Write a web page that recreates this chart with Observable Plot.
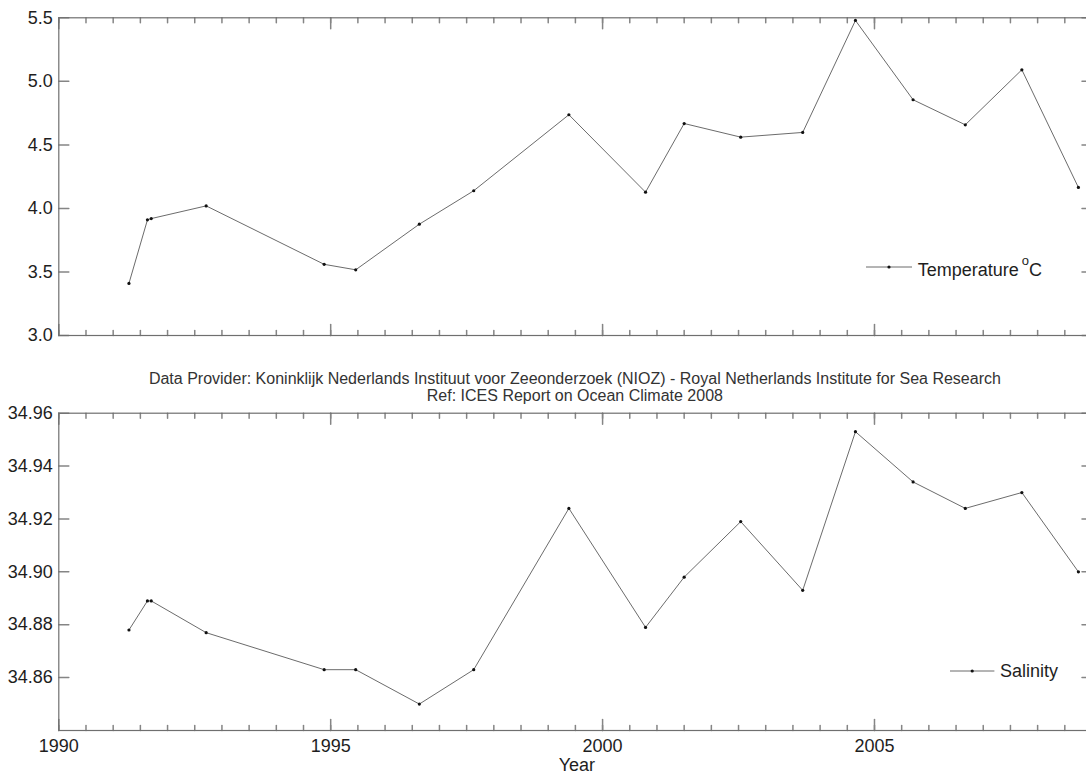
<!DOCTYPE html>
<html>
<head>
<meta charset="utf-8">
<script src="https://cdn.jsdelivr.net/npm/d3@7"></script>
<script src="https://cdn.jsdelivr.net/npm/@observablehq/plot@0.6"></script>
<style>
  html, body { margin: 0; padding: 0; background: #fff; overflow: hidden; }
  #wrap { position: relative; width: 1086px; height: 776px; overflow: hidden; background: #fff;
          font-family: "Liberation Sans", Arial, sans-serif; }
  #wrap svg { position: absolute; left: 0; max-width: none !important; }
  .note { position: absolute; left: 58.3px; width: 1033.2px; text-align: center; font-size: 16px;
          line-height: 17px; color: #333; white-space: nowrap; }
  .legtext { position: absolute; font-size: 18px; line-height: 18px; color: #1e1e1e; white-space: nowrap; }
  .legline { position: absolute; }
</style>
</head>
<body>
<div id="wrap"></div>
<script>
// ---- data ----
const years = [1991.29, 1991.63, 1991.70, 1992.71, 1994.88, 1995.46, 1996.63, 1997.63, 1999.38,
               2000.79, 2001.50, 2002.54, 2003.68, 2004.65, 2005.71, 2006.67, 2007.71, 2008.75];
const temperature = [3.41, 3.91, 3.92, 4.02, 3.56, 3.517, 3.876, 4.139, 4.737,
                     4.128, 4.668, 4.561, 4.598, 5.479, 4.855, 4.658, 5.091, 4.165];
const salinity = [34.878, 34.889, 34.889, 34.877, 34.863, 34.863, 34.850, 34.863, 34.924,
                  34.879, 34.898, 34.919, 34.893, 34.953, 34.934, 34.924, 34.930, 34.900];
const tempTicks = [3.0, 3.5, 4.0, 4.5, 5.0, 5.5];
const salTicks = [34.86, 34.88, 34.90, 34.92, 34.94, 34.96];
const yearLabels = [1990, 1995, 2000, 2005];
const minorYears = d3.range(1990, 2009.001, 0.5);
const xDomain = [1990, 2009];
const tempDomain = [3.0, 5.5];
const salDomain = [34.84, 34.96];
const tempLegend = "Temperature";
const salLegend = "Salinity";
const noteLines = [
  "Data Provider: Koninklijk Nederlands Instituut voor Zeeonderzoek (NIOZ) - Royal Netherlands Institute for Sea Research",
  "Ref: ICES Report on Ocean Climate 2008"
];
const xLabel = "Year";

// ---- helpers ----
const tickShape = {draw(ctx, l) { ctx.moveTo(0, 0); ctx.lineTo(0, -l); }};
const frameColor = "#6f6f6f";
const tickColor = "#858585";

function tickMarks(yTicks) {
  return [
    Plot.vector(minorYears, {x: d => d, frameAnchor: "bottom", length: 5, rotate: 0, anchor: "start", shape: tickShape, stroke: tickColor}),
    Plot.vector(minorYears, {x: d => d, frameAnchor: "top", length: 5, rotate: 180, anchor: "start", shape: tickShape, stroke: tickColor}),
    Plot.vector(yearLabels, {x: d => d, frameAnchor: "bottom", length: 11, rotate: 0, anchor: "start", shape: tickShape, stroke: tickColor}),
    Plot.vector(yearLabels, {x: d => d, frameAnchor: "top", length: 11, rotate: 180, anchor: "start", shape: tickShape, stroke: tickColor}),
    Plot.vector(yTicks, {y: d => d, frameAnchor: "left", length: 10, rotate: 90, anchor: "start", shape: tickShape, stroke: tickColor}),
    Plot.vector(yTicks, {y: d => d, frameAnchor: "right", length: 10, rotate: -90, anchor: "start", shape: tickShape, stroke: tickColor})
  ];
}

function panel({values, yDomain, yTicks, fmt, height, marginTop, marginBottom, bottomAxis}) {
  const data = years.map((yr, i) => ({year: yr, value: values[i]}));
  const marks = [
    ...tickMarks(yTicks),
    Plot.frame({stroke: frameColor, strokeWidth: 1.2}),
    Plot.axisY({ticks: yTicks, tickSize: 0, tickPadding: 6, tickFormat: fmt, label: null, fill: "#1e1e1e"}),
    Plot.line(data, {x: "year", y: "value", stroke: "#5a5a5a", strokeWidth: 0.9}),
    Plot.dot(data, {x: "year", y: "value", r: 1.6, fill: "#111", stroke: "none"})
  ];
  if (bottomAxis) {
    marks.push(Plot.axisX({ticks: yearLabels, tickSize: 0, tickPadding: 9, tickFormat: d => String(d), label: null, fill: "#1e1e1e"}));
    marks.push(Plot.text([xLabel], {text: d => d, frameAnchor: "bottom", lineAnchor: "middle", dy: 34.5, dx: 1.5, fontSize: 18, fill: "#1e1e1e"}));
  }
  return Plot.plot({
    width: 1092,
    height,
    marginLeft: 58.3,
    marginRight: 0.5,
    marginTop,
    marginBottom,
    x: {domain: xDomain, axis: bottomAxis ? undefined : null},
    y: {domain: yDomain},
    style: {fontFamily: "'Liberation Sans', Arial, sans-serif", fontSize: "18px", background: "transparent", overflow: "visible"},
    marks
  });
}

const wrap = document.getElementById("wrap");

const topPanel = panel({values: temperature, yDomain: tempDomain, yTicks: tempTicks, fmt: d => d.toFixed(1),
                   height: 340, marginTop: 17.3, marginBottom: 5, bottomAxis: false});
topPanel.style.top = "0px";
wrap.appendChild(topPanel);

const bottomPanel = panel({values: salinity, yDomain: salDomain, yTicks: salTicks, fmt: d => d.toFixed(2),
                      height: 386, marginTop: 22.7, marginBottom: 46, bottomAxis: true});
bottomPanel.style.top = "390px";
wrap.appendChild(bottomPanel);

// subtitle / reference note
const note = document.createElement("div");
note.className = "note";
note.style.top = "370.3px";
note.innerHTML = noteLines.map(s => `<div>${s}</div>`).join("");
wrap.appendChild(note);

// legends
function legendSwatch(left, topPx, width) {
  const ns = "http://www.w3.org/2000/svg";
  const s = document.createElementNS(ns, "svg");
  s.setAttribute("width", width);
  s.setAttribute("height", 8);
  s.setAttribute("class", "legline");
  s.style.left = left + "px";
  s.style.top = topPx + "px";
  const l = document.createElementNS(ns, "line");
  l.setAttribute("x1", 0); l.setAttribute("x2", width); l.setAttribute("y1", 4); l.setAttribute("y2", 4);
  l.setAttribute("stroke", "#5a5a5a"); l.setAttribute("stroke-width", 0.9);
  const c = document.createElementNS(ns, "circle");
  c.setAttribute("cx", width / 2); c.setAttribute("cy", 4); c.setAttribute("r", 1.6); c.setAttribute("fill", "#111");
  s.appendChild(l); s.appendChild(c);
  wrap.appendChild(s);
}
function legendText(left, topPx, html) {
  const d = document.createElement("div");
  d.className = "legtext";
  d.style.left = left + "px";
  d.style.top = topPx + "px";
  d.innerHTML = html;
  wrap.appendChild(d);
}
legendSwatch(865.7, 262.7, 46);
legendText(917.7, 261.4, `${tempLegend}<span style="font-size:13px;position:relative;top:-11px;margin-left:3px">o</span>C`);
legendSwatch(950.3, 666.7, 44.4);
legendText(1000, 661.8, salLegend);
</script>
</body>
</html>
